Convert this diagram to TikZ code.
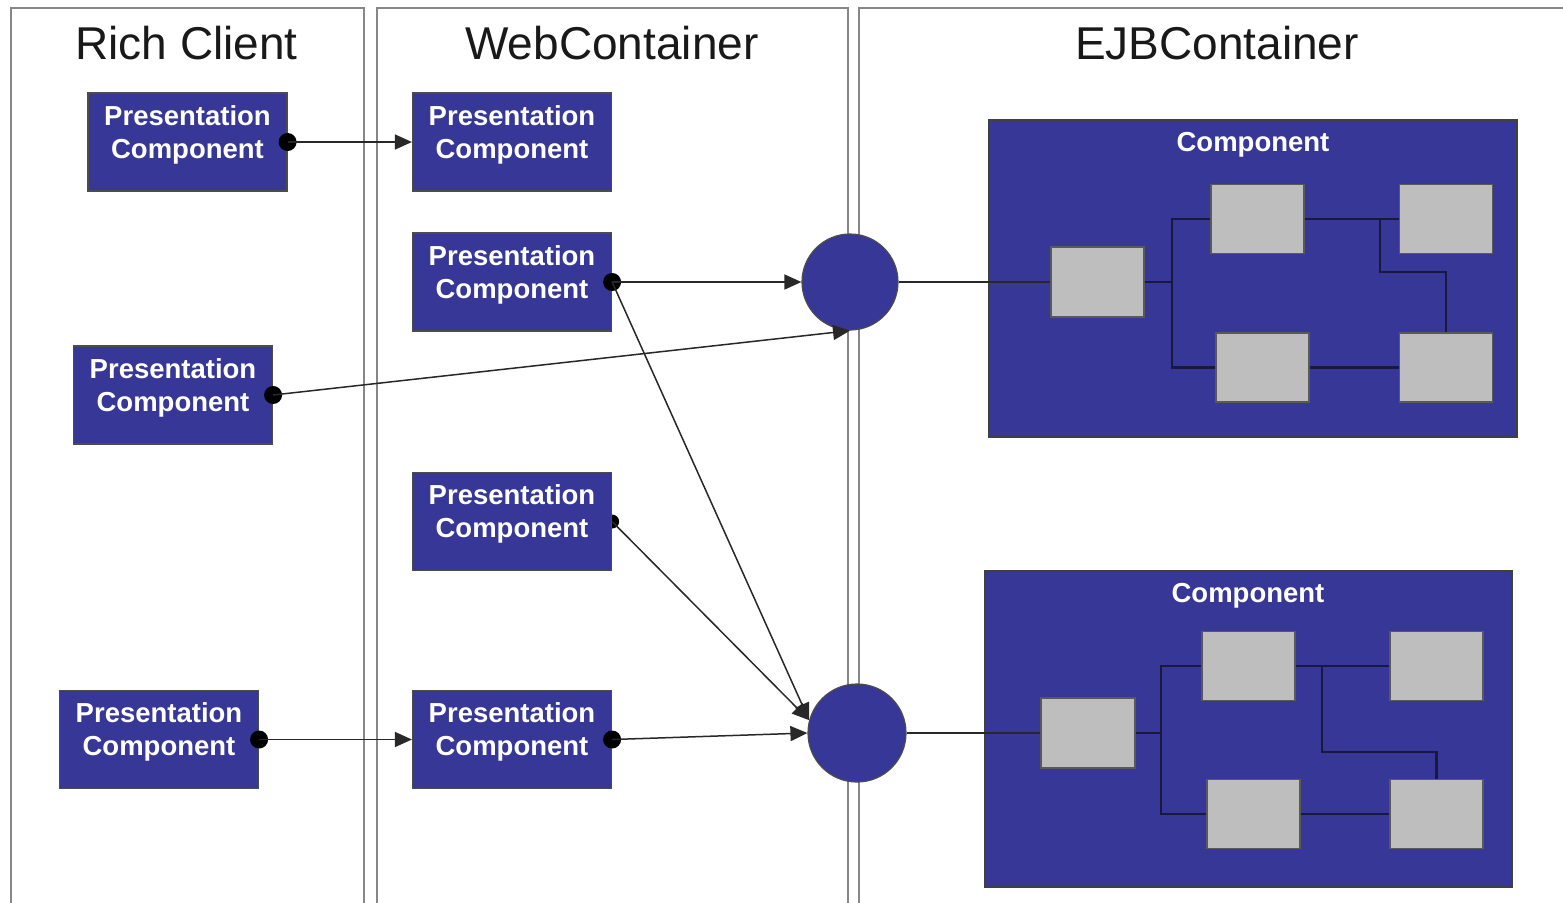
\documentclass[tikz,border=0pt]{standalone}
\usepackage{fontspec}
\setmainfont{Liberation Sans}
\usetikzlibrary{arrows.meta,calc,backgrounds}
\definecolor{compblue}{RGB}{54,55,150}
\definecolor{boxgray}{RGB}{190,190,190}
\definecolor{lanegray}{RGB}{135,135,135}
\definecolor{wirenavy}{RGB}{24,24,64}
\definecolor{linkgray}{RGB}{40,40,40}
\newlength\pxu
\setlength\pxu{0.5pt}
\tikzset{
  lane/.style={draw=lanegray, line width=1.2pt},
  lanetitle/.style={font=\fontsize{23pt}{27pt}\selectfont, text=black!90, anchor=base, inner sep=0pt},
  pbox/.style={rectangle, fill=compblue, draw=black!70, line width=0.6pt,
    minimum width=199\pxu, minimum height=98\pxu, inner sep=0pt},
  ptext/.style={align=center, text=white, inner sep=0pt,
    font=\fontsize{13.75pt}{16.5pt}\selectfont\bfseries},
  cbox/.style={rectangle, fill=compblue, draw=black!75, line width=0.6pt, inner sep=0pt},
  ctext/.style={text=white, inner sep=0pt, font=\fontsize{13.75pt}{16.5pt}\selectfont\bfseries},
  gbox/.style={rectangle, fill=boxgray, draw=black!65, line width=0.7pt,
    minimum width=93\pxu, minimum height=69\pxu, inner sep=0pt},
  hub/.style={circle, fill=compblue, draw=black!70, line width=0.6pt, inner sep=0pt},
  dot/.style={circle, fill=black, inner sep=0pt, minimum size=9pt},
  conn/.style={draw=linkgray, line width=0.75pt, -{Triangle[length=8.5pt,width=7.5pt]}},
  link/.style={draw=linkgray, line width=0.9pt},
  wire/.style={draw=wirenavy, line width=1.3pt},
}
\begin{document}
\begin{tikzpicture}[x=0.5pt,y=-0.5pt]
\useasboundingbox (0,0) rectangle (1563,902);
\begin{scope}[on background layer]
  \fill[white] (0,0) rectangle (1563,902);
\end{scope}

% swim lanes (open at the bottom)
\draw[lane] (11,910) -- (11,8) -- (364,8) -- (364,910);
\draw[lane] (377,910) -- (377,8) -- (848,8) -- (848,910);
\draw[lane] (859,910) -- (859,8) -- (1575,8);

\node[lanetitle] (t1) at (186.5,59) {Rich Client};
\node[lanetitle] (t2) at (612,59) {WebContainer};
\node[lanetitle] (t3) at (1217,59) {EJBContainer};

% presentation components
\node[pbox, label={[ptext, yshift=3.75pt]center:Presentation\\Component}] (rc1) at (187.5,142) {};
\node[pbox, label={[ptext, yshift=3.75pt]center:Presentation\\Component}] (rc2) at (173,395) {};
\node[pbox, label={[ptext, yshift=3.75pt]center:Presentation\\Component}] (rc3) at (159,739.5) {};
\node[pbox, label={[ptext, yshift=3.75pt]center:Presentation\\Component}] (wc1) at (512,142) {};
\node[pbox, label={[ptext, yshift=3.75pt]center:Presentation\\Component}] (wc2) at (512,282) {};
\node[pbox, label={[ptext, yshift=3.75pt]center:Presentation\\Component}] (wc3) at (512,521.5) {};
\node[pbox, label={[ptext, yshift=3.75pt]center:Presentation\\Component}] (wc4) at (512,739.5) {};

% connection points
\node[dot] (d1) at (rc1.east) {};
\node[dot] (d2) at (rc2.east) {};
\node[dot] (d3) at (rc3.east) {};
\node[dot] (d4) at (wc2.east) {};
\begin{scope}[on background layer]
  \node[dot, minimum size=7pt] (d5) at (wc3.east) {};
\end{scope}
\node[dot] (d6) at (wc4.east) {};

% EJB entry points
\node[hub, minimum size=96\pxu] (c1) at (850,282) {};
\node[hub, minimum size=98\pxu] (c2) at (857,733) {};

% calls
\draw[conn] (d1.center) -- (wc1.west);
\draw[conn] (d3.center) -- (wc4.west);
\draw[conn] (d4.center) -- (c1.west);
\draw[conn] (d2.center) -- (c1.south);
\draw[conn] (d4.center) -- (c2.165);
\draw[conn] (d5.center) -- (c2.165);
\draw[conn] (d6.center) -- (c2.west);

% upper EJB component
\node[cbox, minimum width=528\pxu, minimum height=317\pxu] (k1) at (1253,278.5) {};
\node[ctext] (k1t) at (1253,145) {Component};
\node[gbox, minimum height=70\pxu] (g11) at (1097.5,282) {};
\node[gbox] (g12) at (1257.5,219) {};
\node[gbox] (g13) at (1446,219) {};
\node[gbox] (g14) at (1262.5,367.5) {};
\node[gbox] (g15) at (1446,367.5) {};
\coordinate (j1) at (1172,282);
\coordinate (b1) at (1380,219);
\draw[link] (c1.east) -- (g11.west);
\draw[wire] (g11.east) -- (j1);
\draw[wire] (g12.west) -| (j1) |- (g14.west);
\draw[wire] (g12.east) -- (g13.west);
\draw[wire] (b1) -- ++(0,53) -| (g15.north);
\draw[wire] (g14.east) -- (g15.west);

% lower EJB component
\node[cbox, minimum width=527\pxu, minimum height=316\pxu] (k2) at (1248.5,729) {};
\node[ctext] (k2t) at (1248,596) {Component};
\node[gbox, minimum width=94\pxu, minimum height=70\pxu] (g21) at (1088,733) {};
\node[gbox] (g22) at (1248.5,666) {};
\node[gbox] (g23) at (1436.5,666) {};
\node[gbox] (g24) at (1253.5,814) {};
\node[gbox] (g25) at (1436.5,814) {};
\coordinate (j2) at (1161,733);
\coordinate (b2) at (1322,666);
\draw[link] (c2.east) -- (g21.west);
\draw[wire] (g21.east) -- (j2);
\draw[wire] (g22.west) -| (j2) |- (g24.west);
\draw[wire] (g22.east) -- (g23.west);
\draw[wire] (b2) -- ++(0,86) -| (g25.north);
\draw[wire] (g24.east) -- (g25.west);
\end{tikzpicture}
\end{document}
